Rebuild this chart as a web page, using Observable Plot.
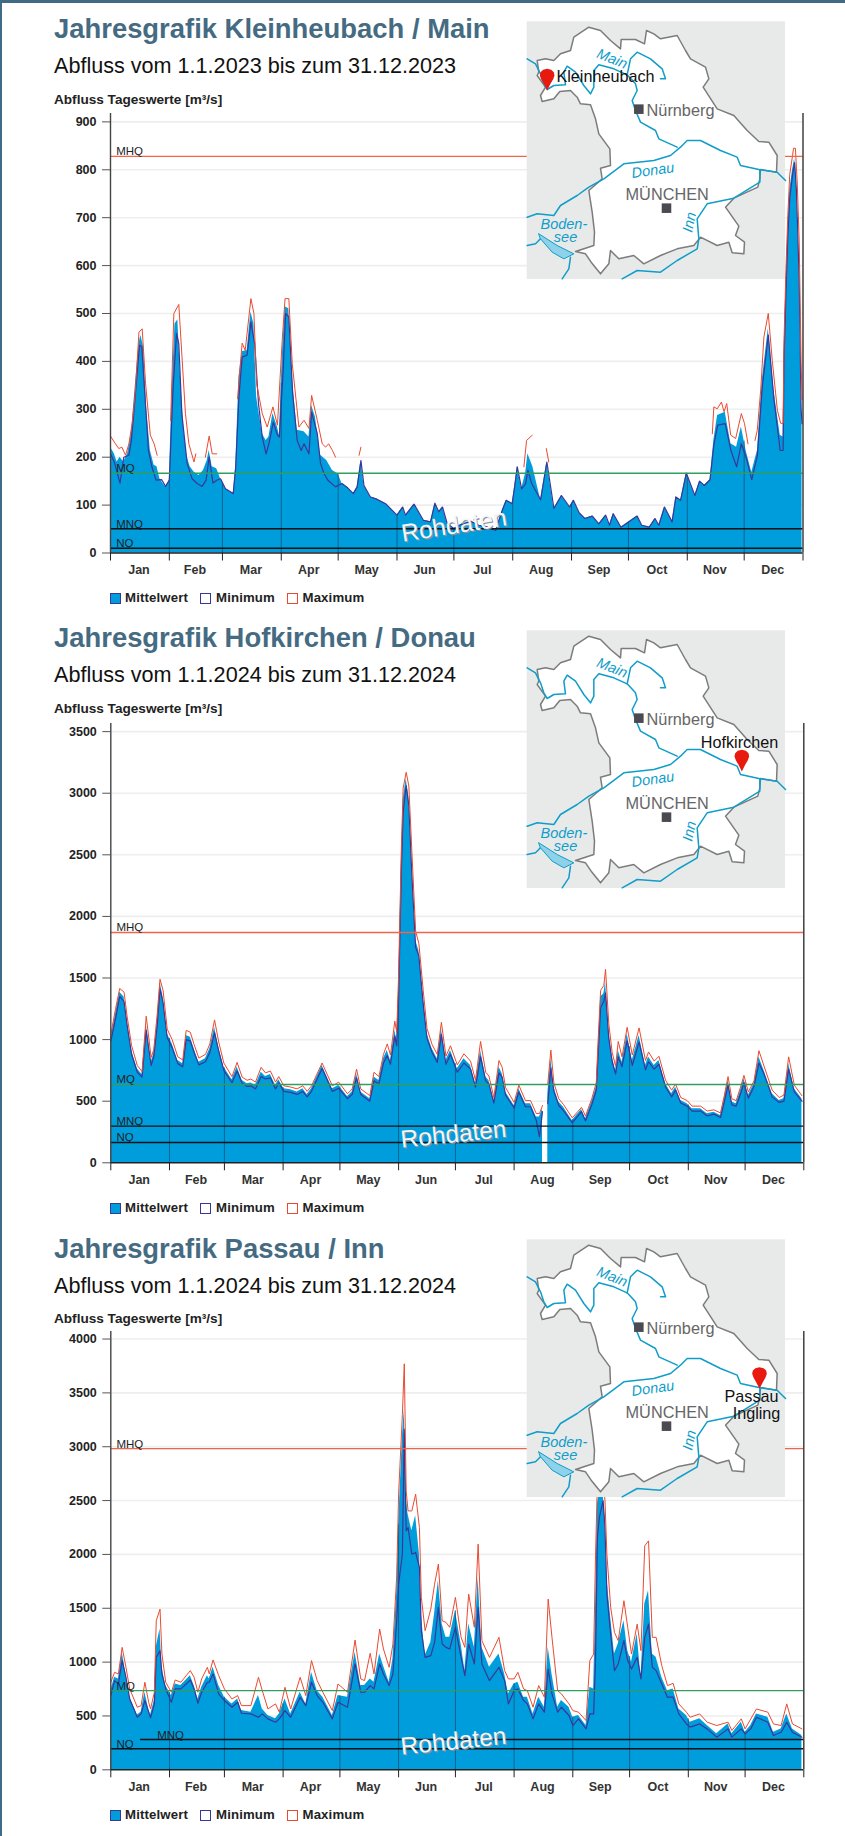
<!DOCTYPE html>
<html lang="de"><head><meta charset="utf-8"><title>Jahresgrafiken</title>
<script src="https://cdn.jsdelivr.net/npm/d3@7"></script>
<script src="https://cdn.jsdelivr.net/npm/@observablehq/plot@0.6"></script>
<style>
html,body{margin:0;padding:0;background:#fff;overflow:hidden}
#page{position:relative;width:845px;height:1836px;overflow:hidden;font-family:"Liberation Sans",Arial,sans-serif;background:#fff}
#page>*{position:absolute}
.border-top{left:0;top:0;width:845px;height:3px;background:#3f6b85}
.border-left{left:0;top:0;width:2px;height:1836px;background:#3f6b85}
.title{left:54px;font-weight:bold;font-size:27px;color:#456b82;white-space:nowrap;transform-origin:0 50%;transform:scaleX(1.015);line-height:30px}
.sub{left:54px;font-size:21.6px;color:#111;white-space:nowrap;line-height:24px}
.ytitle{left:54px;font-weight:bold;font-size:13.6px;color:#222;white-space:nowrap;line-height:14px;transform-origin:0 50%;transform:scaleY(.92)}
.leg{font-weight:bold;font-size:13.2px;color:#222;white-space:nowrap;line-height:14px;letter-spacing:.15px}
.sw{width:9px;height:9px;border:1.4px solid}
svg{display:block;overflow:visible}
</style></head><body><div id="page"></div>
<script>
// ---- labels ----
const months=["Jan","Feb","Mar","Apr","May","Jun","Jul","Aug","Sep","Oct","Nov","Dec"];
const starts365=[0,31,59,90,120,151,181,212,243,273,304,334,365];
const starts366=[0,31,60,91,121,152,182,213,244,274,305,335,366];
const levelNames=["MHQ","MQ","MNQ","NQ"];
const levelColors=["#f0644a","#2f9e5f","#111","#111"];

// ---- Kleinheubach / Main 2023 ----
const mean1=[[0,221],[2,207],[3.5,190],[5,200],[7,190],[9,207],[11,249],[13,346],[15,437],[16,454],[17.5,430],[19,305],[21,214],[23,183],[24.5,180],[26,155],[29,138],[31,152],[32.5,346],[34,478],[35.5,487],[37,360],[38.7,256],[40.4,200],[42,180],[44,169],[46.6,162],[49,172],[51,193],[52,214],[53.6,180],[56,176],[58,155],[60.6,134],[64.7,124],[66,180],[67.7,367],[69.4,420],[72,423],[74,503],[75.6,478],[77,326],[80,249],[82,235],[83.5,242],[85.6,291],[88,263],[89,246],[90.5,409],[92,514],[94,510],[96,360],[98.4,256],[102,253],[104.6,242],[106,308],[108,284],[110.7,204],[114,193],[117,172],[120,165],[122,145],[125,136],[128,124],[130,138],[132,193],[133.6,141],[137,117],[140,113],[145,103],[151,79],[154,96],[155.5,79],[160,102],[165,68],[168.7,65],[171,104],[173,86],[175,96],[177.5,61],[181,51],[185,60],[190,66],[194,58],[198,55],[203,47],[206.5,89],[208.6,110],[211.7,103],[213,138],[214.4,180],[216.7,134],[218.8,166],[220,207],[222.6,180],[226.7,111],[230,190],[233.7,93],[237.7,120],[242,96],[244,110],[247,84],[250,72],[254,77],[257.4,61],[261,79],[263,58],[265,82],[269,54],[270.6,58],[277.6,77],[280,58],[284,54],[287,72],[289,58],[292,96],[296,65],[298,117],[300.5,110],[303.5,167],[308,120],[310.5,150],[313,141],[316,153],[318,235],[320,287],[324,294],[327,228],[330,221],[332.5,263],[335,214],[338,168],[341,214],[343.5,360],[346.7,468],[349.7,340],[353,246],[354.5,242],[355,420],[356,560],[357,680],[358,757],[359.5,800],[360.6,823],[361.5,780],[362,720],[363,600],[364,330],[364.5,280]];
const min1=[[0,207],[2,190],[5,146],[7,200],[9.7,204],[11,235],[13,326],[15.3,434],[16.5,430],[18.3,319],[20,214],[21.8,180],[24,152],[27,153],[29,139],[31,152],[33,346],[34.8,458],[36,437],[37.6,291],[40.4,187],[43,155],[45.7,145],[48.3,139],[50.4,152],[52,200],[54,146],[56,152],[58,155],[60.6,134],[64.7,124],[66,180],[67.7,326],[69.4,409],[72,413],[74,482],[76,437],[78,312],[80,242],[82,207],[83.5,228],[85.8,273],[88,246],[89,242],[91,381],[92.3,500],[94,493],[96,333],[98.4,235],[100.5,214],[102,228],[104.6,207],[106,294],[109,249],[110.7,187],[112.5,166],[114.6,152],[118.6,138],[122,145],[125,136],[128,124],[130,138],[132,193],[133.6,141],[137,117],[140,113],[145,103],[151,79],[154,96],[155.5,79],[160,102],[165,68],[168.7,65],[171,104],[173,86],[175,96],[177.5,61],[181,51],[185,60],[190,66],[194,58],[198,55],[203,47],[206.5,89],[208.6,110],[211.7,103],[213,138],[214.4,180],[216.7,134],[218.8,145],[220,173],[222,145],[226.7,111],[230,190],[233.7,93],[237.7,120],[242,96],[244,110],[247,84],[250,72],[254,77],[257.4,61],[261,79],[263,58],[265,82],[269,54],[270.6,58],[277.6,77],[280,58],[284,54],[287,72],[289,58],[292,96],[296,65],[298,117],[300.5,110],[303.5,167],[308,120],[310.5,150],[313,141],[316,153],[318,225],[320,267],[324,270],[327,214],[330,180],[332.5,228],[335,200],[338,153],[341,205],[343.5,345],[346.7,455],[349.7,320],[353,214],[354.5,214],[355,400],[356,540],[357,660],[358,740],[359.5,790],[360.6,815],[361.5,760],[362,700],[363,570],[364,300],[364.5,270]];
const max1=[[0,244],[2.6,228],[4.4,218],[6,221],[7.9,204],[9.7,228],[11.4,270],[13,333],[15,461],[16.7,468],[18.5,353],[21,246],[23,228],[24.6,204],[25,null],[31.7,277],[33.4,500],[36,519],[37.8,402],[39.5,291],[41.3,228],[44,190],[45,207],[46,null],[50,200],[52,244],[53.6,207],[56,207],[57,null],[67,322],[68,374],[69.4,438],[71,423],[74,531],[75.6,500],[77,354],[80,291],[82.6,263],[85.6,305],[88,267],[90.5,444],[92,531],[94,531],[95.8,395],[99.3,263],[102,277],[104.6,260],[106,329],[109,277],[111.6,228],[113.4,221],[115,228],[117,214],[118.6,200],[119,null],[131,204],[132,221],[133,null],[217.9,180],[219.3,235],[222.3,246],[223,null],[229.7,218],[231,190],[232,null],[317.2,249],[318,305],[319.8,301],[322,315],[323.4,295],[324.8,312],[326.9,246],[329.5,239],[332.5,291],[334.2,270],[336,228],[337,null],[339.7,235],[340.9,256],[342.7,340],[344.4,451],[346.7,500],[348.8,402],[351.5,298],[353.2,271],[354.5,270],[355,445],[356,590],[357,705],[358,790],[359.5,830],[360,845],[361,845],[362,770],[363,650],[364,400],[364.5,320]];
const ticks1=[0,100,200,300,400,500,600,700,800,900];
const levels1=[828,166.6,50.5,10];

// ---- Hofkirchen / Donau 2024 (ten values a row) ----
const days2=[0,2.5,4.7,7,8.6,11,14,16.5,18.7,21.3,
22.7,24.5,26,27.6,29.8,32.4,35.4,38,39.8,42,
44,46.5,50,52.3,54.8,57,59.7,64,66.7,69.4,
72,74,76.4,79.4,81.7,84.3,87,88.7,91.4,95,
98.4,101.4,103.7,106,111.6,117,120.4,125,127.5,129.8,
132,136.8,139,141.6,144,146,147.7,150,151,152,
153.4,154.4,156,157.4,159,161,162.7,165,167,169.7,
172.4,174.6,177,179.4,183,186.5,190,192.6,195.3,198,
199.7,202.3,205,206.7,208.5,213,215.5,219,221.7,224.7,
226.4,228,229,230.8,232.4,234,236.6,239,243.7,248.6,
250.7,254,256.4,257.4,258.7,260.4,261.3,263,264.8,266.6,
268,270,272.7,275.4,279,282.4,284,287,289.5,293,
296.2,298.3,301,304.4,307,311.5,315,318.5,322,323.8,
326,328,330.3,332.6,334.4,336.7,339.7,342.3,345,349.3,
353,355.5,358,361,365];
const mean2=[1007,1210,1385,1345,1155,912,763,717,1128,817,
885,1155,1467,1345,1047,966,831,804,1034,1020,
925,817,844,925,1101,939,777,674,777,668,
641,647,628,736,701,717,628,674,601,593,
574,601,555,601,790,601,628,539,574,723,
574,520,696,668,844,912,831,1074,993,1426,
2427,2942,3118,2969,2427,1805,1724,1345,1047,925,
844,1088,831,912,763,844,790,641,912,696,
668,506,777,723,574,465,601,479,479,371,
371,438,null,560,844,614,493,452,344,433,
357,493,614,939,1345,1372,1467,1074,858,750,
912,817,1047,831,1034,790,858,790,831,641,
560,614,506,479,438,438,398,411,384,506,
668,493,479,587,682,547,641,858,750,560,
506,520,804,601,520];
const min2=[985,1170,1350,1310,1120,880,735,695,1075,790,
860,1110,1410,1300,1015,935,805,780,1000,990,
895,795,820,895,1055,905,750,650,745,645,
620,625,600,700,680,690,600,650,580,572,
555,580,535,580,765,580,605,520,555,690,
555,500,665,640,810,870,800,1030,950,1340,
2340,2850,3060,2900,2340,1750,1680,1290,1010,895,
815,1040,800,880,735,810,760,615,860,665,
640,485,730,695,550,445,575,455,455,345,
210,415,null,480,770,580,465,425,325,415,
340,470,590,880,1260,1310,1380,1010,820,720,
860,780,990,790,980,755,820,760,800,615,
535,590,485,460,420,420,380,395,368,480,
630,470,460,560,650,525,620,810,720,535,
490,500,760,575,500];
const max2=[1040,1250,1415,1385,1190,950,790,740,1190,855,
920,1205,1490,1400,1085,1000,860,835,1075,1060,
960,850,880,965,1160,980,810,700,815,695,
670,680,655,775,730,745,655,700,625,615,
600,625,580,625,810,625,655,560,600,760,
600,545,735,700,880,965,875,1150,1060,1520,
2520,3040,3170,3060,2530,1880,1780,1400,1090,960,
880,1140,865,950,795,885,825,670,985,735,
705,530,830,775,610,490,630,505,505,400,
400,465,null,640,915,650,520,475,365,450,
380,520,650,1000,1400,1440,1570,1130,895,785,
985,860,1100,875,1095,830,900,825,865,670,
590,640,530,505,460,460,420,430,405,530,
700,520,505,615,710,575,665,910,785,590,
530,550,860,630,545];
const ticks2=[0,500,1000,1500,2000,2500,3000,3500];
const levels2=[1870,636,298,165];

// ---- Passau / Inn 2024 (ten values a row) ----
const days3=[0,2,4,6,8,10,14,16,18,20,
21,23,24,26,27,29,32,34,37,42,
44,46,48,51,52,54,57,60,64,67,
69,74,78,80,83,87,89,92,95,100,
103,106,109,112,117,120,125,129,132,134,
137,139,142,144,147,149,151,152,154,155,
156,157,159,161,163,164,166,169,171,173,
175,177,179,182,185,187,189,192,194,196,
200,205,208,210,213,215,218,220,223,226,
229,231,233,236,238,242,244,247,251,253,
255,256,257,258,260,261,262,264,266,268,
271,273,275,278,280,282,284,286,288,291,
294,297,300,304,306,311,315,320,326,328,
333,335,338,341,347,350,354,357,360,365];
const mean3=[735,859,844,1091,890,674,510,535,720,565,
510,643,1137,1307,952,782,689,797,782,874,
782,658,766,874,844,952,782,674,612,658,
550,535,689,565,504,473,519,658,519,720,
612,905,735,674,504,689,674,1091,782,782,
844,813,1075,967,813,1029,1650,2280,3084,3346,
2528,2373,2219,2358,2002,1446,1060,1183,1446,1755,
1353,1230,1230,1477,1168,921,1353,1137,1786,1137,
952,1075,890,705,797,813,674,674,519,674,
581,1137,890,581,643,581,488,504,411,766,
751,1508,2472,2559,2559,2342,1786,1415,1075,1168,
1384,1106,998,1261,859,1539,1662,1075,1044,859,
735,751,565,504,442,473,411,334,426,334,
442,349,411,519,488,349,380,519,380,318];
const min3=[689,828,797,1014,859,658,488,519,643,535,
482,612,1044,1106,890,751,627,751,751,834,
751,618,720,813,813,890,705,643,581,627,
525,519,488,519,473,442,473,550,488,674,
596,813,689,627,473,627,581,983,720,720,
782,751,983,890,782,890,1384,1724,2002,3161,
2219,2250,2002,2018,1879,1292,1044,1060,1183,1508,
1168,1137,1122,1323,1044,874,1168,983,1508,983,
828,952,828,612,735,751,643,612,473,612,
535,936,705,535,581,504,411,473,380,519,
519,1014,2163,2342,2497,2250,1632,1261,921,983,
1199,1014,936,1044,844,1230,1353,952,921,797,
674,674,519,426,396,426,380,303,380,303,
380,334,380,488,442,318,349,442,349,303];
const max3=[813,905,890,1137,952,751,581,596,813,627,
565,720,1384,1492,1075,813,720,834,813,921,
859,720,844,952,890,1020,874,751,658,689,
596,596,859,735,565,612,535,766,565,859,
689,1014,828,720,550,797,720,1205,844,828,
1082,890,1307,1122,952,1168,1800,2559,3300,3770,
2590,2404,2404,2559,2250,1601,1292,1492,1724,1910,
1384,1369,1323,1601,1230,1137,1632,1323,2095,1199,
1044,1230,921,844,844,905,751,735,581,782,
674,1585,1230,735,705,612,550,535,457,1014,
1075,1987,2682,2781,2719,2497,2002,1508,1276,1199,
1570,1323,1075,1353,1106,2080,2126,1230,1230,967,
782,803,612,535,488,519,442,411,442,365,
473,380,473,565,535,426,411,612,426,380];
const ticks3=[0,500,1000,1500,2000,2500,3000,3500,4000];
const levels3=[2982,735,281,195];

// ---- Bavaria map, in the map's own 810 x 810 grid ----
const mapBorder=[[50,135],[75,130],[100,135],[120,115],[150,105],[160,65],[205,35],[240,45],[270,75],[300,100],[302,72],[345,72],[372,85],[378,45],[400,55],[420,70],[470,60],[495,105],[510,130],[555,155],[565,190],[548,215],[590,280],[640,300],[680,345],[715,378],[745,380],[770,420],[768,470],[720,462],[718,490],[712,515],[640,548],[615,575],[655,632],[645,660],[672,680],[670,715],[635,712],[625,680],[590,690],[540,665],[520,690],[470,700],[420,720],[370,745],[340,720],[295,730],[270,705],[265,745],[240,775],[212,740],[195,715],[165,708],[220,690],[222,650],[215,590],[205,525],[245,490],[240,458],[270,450],[268,400],[235,355],[225,310],[210,268],[180,265],[170,245],[150,225],[118,228],[100,250],[65,258],[60,240],[75,215],[50,180],[55,170]];
const riverMain=[[20,130],[45,145],[60,175],[70,205],[80,222],[100,210],[135,208],[130,170],[140,152],[165,170],[190,210],[210,235],[220,215],[220,165],[235,148],[280,160],[320,178],[345,205],[350,225],[335,255],[345,285],[360,320],[405,345],[415,370],[470,395]];
const riverUpperMain=[[320,178],[330,130],[350,110],[390,130],[425,160],[435,190],[420,190]];
const riverDonau=[[20,605],[50,595],[100,600],[120,570],[170,540],[205,515],[250,490],[310,445],[400,435],[450,420],[480,395],[500,375],[540,375],[600,405],[650,425],[660,450],[715,462],[770,470],[795,495]];
const riverInn=[[718,462],[718,500],[640,548],[560,565],[530,610],[535,670],[530,700],[470,735],[420,770],[350,765],[305,790]];
const riverRhein=[[20,690],[45,685],[60,670]];
const riverRhein2=[[150,725],[145,760],[125,790]];
const lake=[[55,655],[110,690],[160,715],[130,730],[95,710],[60,670]];
const pinDx=[0,-10,-18,-22,-20,-12,0,12,20,22,18,10];
const pinDy=[0,-20,-34,-45,-55,-62,-65,-62,-55,-45,-34,-20];
const cityNames=["Nürnberg","MÜNCHEN"];
const cityLabelX=[480,440], cityLabelY=[285,537];
const citySquareX=[355,438], citySquareY=[281,578];
const waterNames=["Main","Donau","Inn","Boden-","see"];
const waterX=[275,397,507,130,135], waterY=[130,465,620,627,665], waterRot=[22,-8,-78,0,0], waterSize=[14.5,14.5,14.5,14.5,14.5];

// ---- helper for the month rule height ----
function topAt(series,d){
  const clean=series.filter(p=>p[1]!=null);
  const i=d3.bisector(p=>p[0]).left(clean,d);
  if(i<=0) return clean[0][1];
  if(i>=clean.length) return clean[clean.length-1][1];
  const a=clean[i-1],b=clean[i];
  return a[1]+(b[1]-a[1])*(d-a[0])/(b[0]-a[0]);
}
const toRows=(days,vals)=>days.map((d,i)=>[d,vals[i]]);
const X=d=>d[0],Y=d=>d[1];

function chart(o){
  const {top,height,y0,yTop,domainTop,starts,xEnd,ticks,levels,mean,min,max,roh,rohRot,labelDays}=o;
  const mids=months.map((m,i)=>(starts[i]+starts[i+1])/2-0.5);
  const monthInner=starts.slice(1,-1);
  const lv=levels.map((v,i)=>({v,name:levelNames[i],color:levelColors[i],d:labelDays[i],from:i===2&&o.mnqFrom||0}));
  const fp=Plot.plot({
    width:845,height,
    marginTop:yTop-top,marginBottom:height-(y0-top),marginLeft:o.xStart,marginRight:845-xEnd,
    x:{domain:[0,starts[12]],axis:null},
    y:{domain:[0,domainTop],axis:null},
    style:{background:"transparent",fontFamily:"'Liberation Sans',Arial,sans-serif",overflow:"visible"},
    marks:[
      Plot.ruleY(ticks.slice(1),{stroke:"#eeeeee",strokeWidth:1.6}),
      Plot.area(mean,{x1:X,y1:0,y2:Y,fill:"#009ddc"}),
      Plot.ruleX(monthInner,{y1:0,y2:d=>topAt(mean,d),stroke:"#134f78",strokeWidth:1,strokeOpacity:.75}),
      Plot.line(min,{x:X,y:Y,stroke:"#3b3799",strokeWidth:1.2}),
      Plot.line(max,{x:X,y:Y,stroke:"#ea4a30",strokeWidth:1}),
      Plot.ruleY(lv,{y:"v",x1:"from",x2:starts[12],stroke:"color",strokeWidth:1.4}),
      Plot.text(lv,{x:"d",y:"v",text:"name",textAnchor:"start",lineAnchor:"bottom",dy:-1,fontSize:11.5,fill:"#222"}),
      Plot.ruleX([0],{stroke:"#444",strokeWidth:1.4}),
      Plot.ruleX([starts[12]],{stroke:"#333",strokeWidth:1.4}),
      Plot.ruleY([0],{stroke:"#222",strokeWidth:1.4}),
      Plot.axisX(starts,{anchor:"bottom",tickSize:8,tickFormat:()=>"",label:null,stroke:"#222"}),
      Plot.axisX(mids,{anchor:"bottom",tickSize:0,tickPadding:12,tickFormat:(d,i)=>months[i],label:null,fontWeight:"bold",fontSize:12.5,fill:"#333"}),
      Plot.axisY(ticks,{anchor:"left",tickSize:8,tickPadding:6,tickFormat:"d",label:null,fontWeight:"bold",fontSize:12.5,fill:"#222",stroke:"#555"}),
      Plot.text([roh],{x:X,y:Y,text:()=>"Rohdaten",rotate:rohRot,fontSize:24.5,fill:"#8a8f99",dx:1,dy:1.2}),
      Plot.text([roh],{x:X,y:Y,text:()=>"Rohdaten",rotate:rohRot,fontSize:24.5,fill:"#f4f7f9"})
    ]
  });
  fp.style.left="0px"; fp.style.top=top+"px";
  return fp;
}

function bavaria(o){
  const pin=pinDx.map((dx,i)=>[o.pinX+dx,o.pinY+pinDy[i]]);
  const cities=cityNames.map((n,i)=>({n,x:cityLabelX[i],y:cityLabelY[i],sx:citySquareX[i],sy:citySquareY[i]}));
  const waters=waterNames.map((n,i)=>({n,x:waterX[i],y:waterY[i],r:waterRot[i],s:waterSize[i]}));
  const river=(r,w=1.5)=>Plot.line(r,{x:X,y:Y,stroke:"#0f9dc9",strokeWidth:w,strokeLinejoin:"round"});
  const p=Plot.plot({
    width:270,height:270,margin:0,
    x:{domain:[0,810],axis:null},y:{domain:[0,810],reverse:true,axis:null},
    style:{background:"transparent",fontFamily:"'Liberation Sans',Arial,sans-serif",overflow:"visible"},
    marks:[
      Plot.rect([0],{x1:()=>20,x2:()=>795,y1:()=>19,y2:()=>792,fill:"#e8eaea"}),
      Plot.line(mapBorder,{x:X,y:Y,curve:"linear-closed",fill:"#fff",stroke:"#7c7c7c",strokeWidth:1.5,strokeLinejoin:"round"}),
      river(riverMain),river(riverUpperMain),river(riverDonau),river(riverInn),river(riverRhein),river(riverRhein2),
      Plot.line(lake,{x:X,y:Y,curve:"linear-closed",fill:"#8ed2ea",stroke:"#0f9dc9",strokeWidth:1}),
      Plot.text(waters,{x:"x",y:"y",text:"n",rotate:"r",fontSize:d=>d.s,fontStyle:"italic",fill:"#0f9dc9"}),
      Plot.text(cities,{x:"x",y:"y",text:"n",fontSize:16.3,fill:"#666"}),
      Plot.dot(cities,{x:"sx",y:"sy",symbol:"square",r:5.4,fill:"#4a4a50"}),
      Plot.line(pin,{x:X,y:Y,curve:"linear-closed",fill:"#e8190f",stroke:"none"}),
      Plot.text(o.labels,{x:"x",y:"y",text:"n",fontSize:16.2,fill:"#111"})
    ]
  });
  p.style.left="520px"; p.style.top=o.top+"px";
  return p;
}

// ---- page ----
const page=document.getElementById("page");
function add(cls,text,left,top,extra){
  const e=document.createElement("div");
  e.className=cls; if(text!=null) e.textContent=text;
  if(left!=null) e.style.left=left+"px";
  if(top!=null) e.style.top=top+"px";
  if(extra) Object.assign(e.style,extra);
  page.appendChild(e); return e;
}
add("border-top"); add("border-left");

function head(off,subOff,title,sub){
  add("title",title,null,14+off);
  add("sub",sub,null,54+off+subOff);
  add("ytitle","Abfluss Tageswerte [m³/s]",null,93+off+(off>1000?-1:0));
}
function legend(y){
  add("sw",null,110,y-5,{background:"#009ddc",borderColor:"#3b3799"});
  add("leg","Mittelwert",125,y-7);
  add("sw",null,200,y-5,{background:"#fff",borderColor:"#3b3799"});
  add("leg","Minimum",216,y-7);
  add("sw",null,287,y-5,{background:"#fff",borderColor:"#ea4a30"});
  add("leg","Maximum",302.5,y-7);
}

head(0,0,"Jahresgrafik Kleinheubach / Main","Abfluss vom 1.1.2023 bis zum 31.12.2023");
page.appendChild(chart({top:100,height:490,y0:552.5,yTop:113,domainTop:917.5,xStart:110,xEnd:802.5,starts:starts365,ticks:ticks1,levels:levels1,
  mean:mean1,min:min1,max:max1,roh:[181,57],rohRot:-9,labelDays:[3,3,3,3]}));
legend(598);
page.appendChild(bavaria({top:15,pinX:80,pinY:225,labels:[{n:"Kleinheubach",x:255,y:185}]}));

head(609,0,"Jahresgrafik Hofkirchen / Donau","Abfluss vom 1.1.2024 bis zum 31.12.2024");
page.appendChild(chart({top:710,height:490,y0:1162.3,yTop:723,domainTop:3566,xStart:110.3,xEnd:803.3,starts:starts366,ticks:ticks2,levels:levels2,
  mean:toRows(days2,mean2),min:toRows(days2,min2),max:toRows(days2,max2),roh:[181,230],rohRot:-6,labelDays:[3,3,3,3]}));
legend(1208);
page.appendChild(bavaria({top:624,pinX:664,pinY:441,labels:[{n:"Hofkirchen",x:657,y:356}]}));

head(1220,0,"Jahresgrafik Passau / Inn","Abfluss vom 1.1.2024 bis zum 31.12.2024");
page.appendChild(chart({top:1318,height:490,y0:1769.3,yTop:1331,domainTop:4070,xStart:110.3,xEnd:803.3,starts:starts366,ticks:ticks3,levels:levels3,
  mean:toRows(days3,mean3),min:toRows(days3,min3),max:toRows(days3,max3),roh:[181,263],rohRot:-6,labelDays:[3,3,24.5,3],mnqFrom:15.7}));
legend(1815);
page.appendChild(bavaria({top:1233,pinX:717,pinY:466,labels:[{n:"Passau",x:693,y:490},{n:"Ingling",x:708,y:541}]}));
</script></body></html>
